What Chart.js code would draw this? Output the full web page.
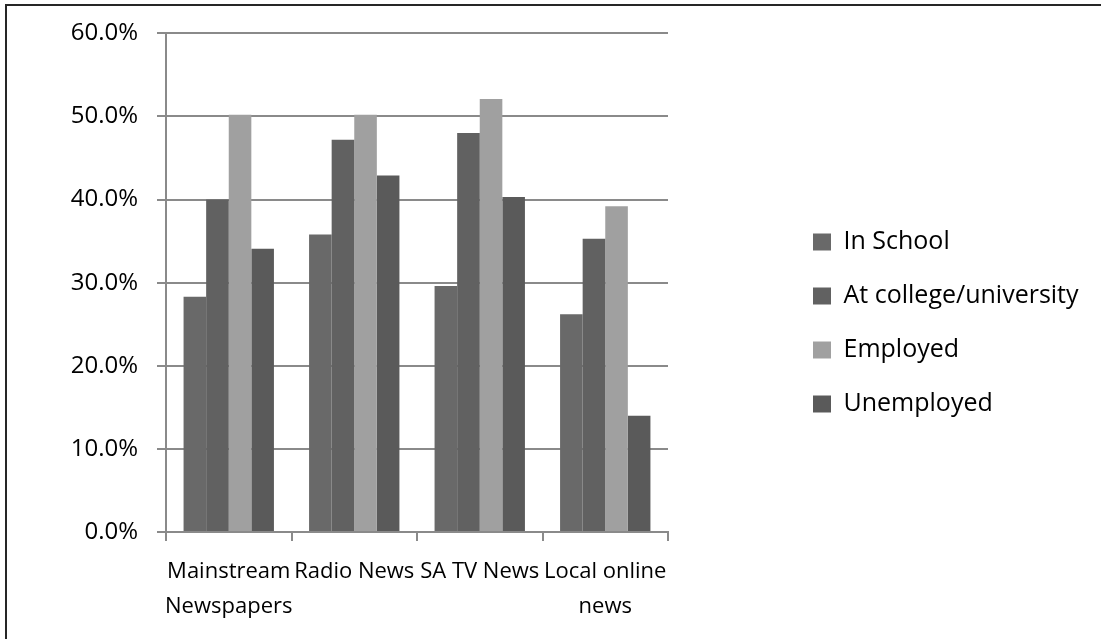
<!DOCTYPE html>
<html>
<head>
<meta charset="utf-8">
<script src="https://cdn.jsdelivr.net/npm/chart.js@4.4.1/dist/chart.umd.min.js"></script>
<style>
    html, body { margin: 0; padding: 0; background: #fff; }
    #wrap { position: relative; width: 1101px; height: 639px; overflow: hidden; }
    #frame { position: absolute; left: 5px; top: 4px; width: 1100px; height: 700px; border: 2px solid #262626; box-sizing: border-box; pointer-events: none; }
</style>
</head>
<body>
<div id="wrap">
    <canvas id="newsChart" width="1101" height="639"></canvas>
    <div id="frame"></div>
</div>
<script>
const categories = [['Mainstream', 'Newspapers'], ['Radio News'], ['SA TV News'], ['Local online', 'news']];
const inSchool = [28.3, 35.8, 29.6, 26.2];
const atCollege = [40.0, 47.2, 48.0, 35.3];
const employed = [50.2, 50.2, 52.1, 39.2];
const unemployed = [34.1, 42.9, 40.3, 14.0];
const yTicks = [0, 10, 20, 30, 40, 50, 60];

const FONT = "'Open Sans', 'DejaVu Sans', sans-serif";
const plotRight = 668;     // right edge of the plot area
const legendBoxX = 813;    // where the legend squares start
const legendLift = 13;     // legend sits a bit above the middle

// legend takes all space right of the plot, items pushed in to the right spot
const legendGap = {
    id: 'legendGap',
    beforeInit(chart) {
        const legend = chart.legend;
        const fit = legend.fit;
        legend.fit = function () {
            fit.call(this);
            this.width = chart.width - plotRight;
        };
    },
    afterLayout(chart) {
        const legend = chart.legend;
        legend.left = legendBoxX - legend.options.labels.padding;
        legend.top -= legendLift;
        legend.bottom -= legendLift;
    }
};

const ctx = document.getElementById('newsChart').getContext('2d');
new Chart(ctx, {
    type: 'bar',
    data: {
        labels: categories,
        datasets: [
            { label: 'In School', data: inSchool, backgroundColor: '#696969' },
            { label: 'At college/university', data: atCollege, backgroundColor: '#616161' },
            { label: 'Employed', data: employed, backgroundColor: '#a0a0a0' },
            { label: 'Unemployed', data: unemployed, backgroundColor: '#5a5a5a' }
        ]
    },
    options: {
        responsive: false,
        animation: false,
        devicePixelRatio: 1,
        layout: { padding: { top: 33, right: 0, bottom: 0, left: 0 } },
        datasets: { bar: { categoryPercentage: 0.72, barPercentage: 1.0, borderWidth: 0 } },
        plugins: {
            legend: {
                position: 'right',
                labels: {
                    color: '#000',
                    font: { family: FONT, size: 25 },
                    boxWidth: 18,
                    boxHeight: 17,
                    padding: 29
                }
            },
            tooltip: { enabled: false }
        },
        scales: {
            x: {
                grid: { display: true, drawOnChartArea: false, color: '#8a8a8a', lineWidth: 2, tickLength: 9, offset: true },
                border: { color: '#8a8a8a', width: 2 },
                ticks: { color: '#000', font: { family: FONT, size: 22, lineHeight: 1.6 }, padding: 13, maxRotation: 0, autoSkip: false },
                afterFit(s) { s.height = 639 - 532; }
            },
            y: {
                min: 0,
                max: 60,
                afterBuildTicks(s) { s.ticks = yTicks.map(v => ({ value: v })); },
                grid: { color: '#8a8a8a', lineWidth: 2, tickLength: 9 },
                border: { color: '#8a8a8a', width: 2 },
                ticks: {
                    color: '#000',
                    font: { family: FONT, size: 24 },
                    padding: 19,
                    callback: v => v.toFixed(1) + '%'
                },
                afterFit(s) { s.width = 166; }
            }
        }
    },
    plugins: [legendGap]
});
</script>
</body>
</html>
